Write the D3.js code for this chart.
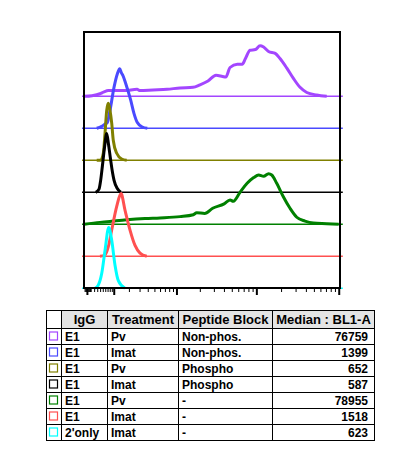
<!DOCTYPE html>
<html>
<head>
<meta charset="utf-8">
<script src="https://cdn.jsdelivr.net/npm/d3@7"></script>
<style>
  body { margin: 0; background: #fff; }
  svg { display: block; }
  text { font-family: "Liberation Sans", Arial, sans-serif; font-weight: bold; }
</style>
</head>
<body>
<svg id="chart" width="396" height="461"></svg>
<script>
// table columns
const igG = ["E1", "E1", "E1", "E1", "E1", "E1", "2'only"];
const treatment = ["Pv", "Imat", "Pv", "Imat", "Pv", "Imat", "Imat"];
const peptideBlock = ["Non-phos.", "Non-phos.", "Phospho", "Phospho", "-", "-", "-"];
const medianBL1A = [76759, 1399, 652, 587, 78955, 1518, 623];
const headers = ["", "IgG", "Treatment", "Peptide Block", "Median : BL1-A"];

// histograms, [BL1-A intensity, relative count]
const histPvNonPhos = [[-70, 0], [137, 1], [396, 4], [549, 7], [740, 9], [1069, 9], [1700, 9], [2733, 11], [3050, 9],
  [4773, 10], [7480, 11], [11130, 13], [16380, 14], [20100, 18], [25320, 24], [31900, 33], [38460, 31], [42170, 30],
  [47560, 45], [58400, 50], [67140, 50], [73600, 59], [83700, 72], [97200, 73], [110900, 79], [122600, 77],
  [140800, 70], [169800, 67], [194200, 59], [235000, 44], [282200, 28], [339700, 14], [410000, 6], [541000, 2], [716000, 0]];
const histImatNonPhos = [[283, 0], [459, 3], [569, 6], [689, 9], [813, 28], [1014, 64], [1199, 85], [1344, 93],
  [1446, 87], [1581, 81], [1752, 70], [2148, 44], [2443, 23], [2765, 9], [3310, 2], [3940, 0]];
const histPvPhospho = [[283, 0], [421, 0], [521, 11], [590, 42], [662, 78], [734, 89], [813, 78], [896, 58],
  [977, 31], [1164, 11], [1472, 2], [1826, 0]];
const histImatPhospho = [[250, 0], [361, 5], [421, 19], [482, 40], [569, 70], [662, 92], [742, 75], [837, 52],
  [936, 31], [1014, 19], [1199, 6], [1407, 0]];
const histPvNone = [[-70, 0], [396, 3], [962, 5], [1826, 7], [3640, 9], [5986, 10], [11130, 12], [16540, 15],
  [18260, 18], [23020, 17], [29000, 25], [40200, 32], [47560, 38], [52200, 36], [63180, 50], [77100, 64],
  [92800, 73], [106600, 77], [122600, 75], [140800, 79], [154000, 77], [177100, 64], [213000, 43], [256800, 25],
  [310000, 11], [390400, 5], [492300, 2], [716000, 1], [1000000, 0]];
const histImatNone = [[396, 0], [590, 2], [734, 15], [896, 41], [1164, 78], [1427, 98], [1700, 72], [2090, 41],
  [2537, 17], [3050, 5], [3862, 0]];
const histSecOnly = [[228, 0], [336, 5], [459, 23], [590, 59], [752, 95], [896, 75], [1069, 36], [1258, 12], [1700, 0]];

const histograms = [histPvNonPhos, histImatNonPhos, histPvPhospho, histImatPhospho, histPvNone, histImatNone, histSecOnly];
const colors = ["#a346ff", "#4a4aff", "#808000", "#000000", "#008000", "#ff5050", "#00ffff"];

const baselineExtent = [-130, 1120000];
const majorTicks = [0, 1000, 10000, 100000, 1000000];
const minorTicks = [-60, -40, -20, 20, 40, 60, 80, 100, 200, 300, 400, 500, 600, 700, 800, 900,
  2000, 3000, 4000, 5000, 6000, 7000, 8000, 9000,
  20000, 30000, 40000, 50000, 60000, 70000, 80000, 90000,
  200000, 300000, 400000, 500000, 600000, 700000, 800000, 900000];

const svg = d3.select("#chart");
const frame = { left: 84, top: 32, width: 256, height: 256 };

const x = d3.scaleSymlog().constant(900)
  .domain([-76, 1036000])
  .range([frame.left, frame.left + frame.width]);
const yBase = d3.scalePoint().domain(d3.range(histograms.length)).range([96.3, frame.top + frame.height + 0.3]);
const yCount = d3.scaleLinear().domain([0, 100]).range([0, 64]);

const traces = svg.append("g");
histograms.forEach((h, i) => {
  const g = traces.append("g").attr("stroke", colors[i]).attr("fill", "none");
  g.append("line")
    .attr("x1", x(baselineExtent[0])).attr("x2", x(baselineExtent[1]))
    .attr("y1", yBase(i)).attr("y2", yBase(i))
    .attr("stroke-width", 1.4);
  const line = d3.line()
    .x(d => x(d[0]))
    .y(d => yBase(i) - yCount(d[1]))
    .curve(d3.curveMonotoneX);
  g.append("path")
    .attr("d", line(h))
    .attr("stroke-width", 3)
    .attr("stroke-linejoin", "round");
});

// frame
svg.append("rect")
  .attr("x", frame.left).attr("y", frame.top)
  .attr("width", frame.width).attr("height", frame.height)
  .attr("fill", "none").attr("stroke", "#000").attr("stroke-width", 2);

// x axis ticks (no labels)
const axisY = frame.top + frame.height;
svg.append("g")
  .attr("transform", `translate(0,${axisY})`)
  .call(d3.axisBottom(x).tickValues(minorTicks).tickSize(4).tickFormat(""))
  .call(g => g.select(".domain").remove())
  .call(g => g.selectAll(".tick line").attr("stroke", "#000").attr("stroke-width", 1));
svg.append("g")
  .attr("transform", `translate(0,${axisY})`)
  .call(d3.axisBottom(x).tickValues(majorTicks).tickSize(7).tickFormat(""))
  .call(g => g.select(".domain").remove())
  .call(g => g.selectAll(".tick line").attr("stroke", "#000").attr("stroke-width", 2));

// legend table
const colEdges = [46.5, 61.5, 107.5, 178.5, 272.5, 374.5];
const headTop = 310.5, headH = 18, rowH = 16;
const table = svg.append("g");

table.selectAll("rect.head")
  .data(headers)
  .join("rect")
  .attr("class", "head")
  .attr("x", (d, i) => colEdges[i]).attr("y", headTop)
  .attr("width", (d, i) => colEdges[i + 1] - colEdges[i]).attr("height", headH)
  .attr("fill", (d, i) => i === 0 ? "#fff" : "#e4e4e4")
  .attr("stroke", "#000");

table.selectAll("text.head")
  .data(headers)
  .join("text")
  .attr("class", "head")
  .attr("x", (d, i) => (colEdges[i] + colEdges[i + 1]) / 2)
  .attr("y", headTop + 13.5)
  .attr("text-anchor", "middle")
  .attr("font-size", 13)
  .text(d => d);

const rows = d3.range(igG.length).map(i => [igG[i], treatment[i], peptideBlock[i], medianBL1A[i]]);
const rowTop = i => headTop + headH + i * rowH;

rows.forEach((r, i) => {
  const top = rowTop(i);
  for (let c = 0; c < 5; c++) {
    table.append("rect")
      .attr("x", colEdges[c]).attr("y", top)
      .attr("width", colEdges[c + 1] - colEdges[c]).attr("height", rowH)
      .attr("fill", "#fff").attr("stroke", "#000");
  }
  table.append("rect")
    .attr("x", colEdges[0] + 3).attr("y", top + 3.5)
    .attr("width", 8).attr("height", 8)
    .attr("fill", "#fff").attr("stroke", colors[i]).attr("stroke-width", 1.2);
  r.forEach((v, c) => {
    const last = c === 3;
    table.append("text")
      .attr("x", last ? colEdges[5] - 6.5 : colEdges[c + 1] + 3.5)
      .attr("y", top + 12.5)
      .attr("text-anchor", last ? "end" : "start")
      .attr("font-size", 12)
      .text(v);
  });
});
</script>
</body>
</html>
